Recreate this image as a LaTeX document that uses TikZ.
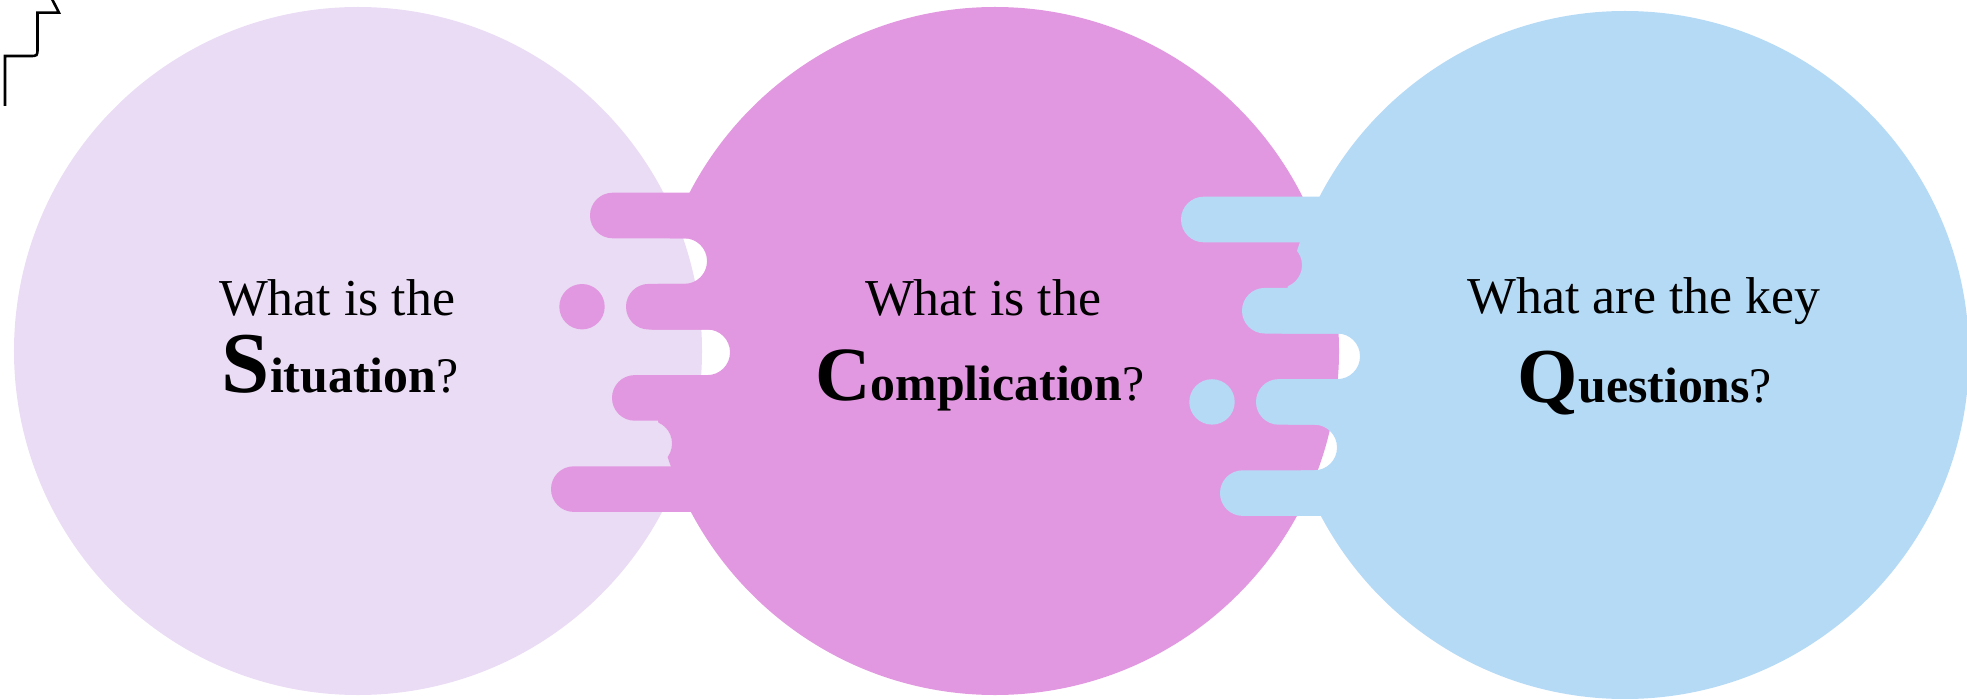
\documentclass[tikz,border=0pt]{standalone}
\usepackage{fontspec}
\setmainfont{Liberation Serif}
\definecolor{sitcol}{RGB}{234,220,245}
\definecolor{comcol}{RGB}{226,152,224}
\definecolor{quecol}{RGB}{181,218,246}
\begin{document}
\begin{tikzpicture}[x=1bp,y=-1bp,
    drip/.style={rounded corners=22.7bp},
    toprow/.style={font=\fontsize{52}{60}\selectfont,inner sep=0pt,anchor=base},
    keyrow/.style={font=\fontsize{50}{60}\selectfont\bfseries,inner sep=0pt,anchor=base}]
\useasboundingbox (0,0) rectangle (1967,699);
\coordinate (sit) at (358,351);
\coordinate (com) at (995,351);
\coordinate (que) at (1625,355);
% situation
\fill [sitcol] (sit) circle [radius=344bp];
% complication, with its notches left out
\begin{scope}[even odd rule,drip]
  \clip (-50,-50) rectangle (2050,750)
    \foreach \k/\xr in {1/707,3/730,5/672} {(400,{192.7+\k*45.6}) rectangle (\xr,{238.3+\k*45.6})};
  \fill [comcol,sharp corners] (com) circle [radius=344bp];
\end{scope}
\foreach \k/\xl in {0/590,2/626,4/612,6/551}
  \fill [comcol,drip] (\xl,{192.7+\k*45.6}) rectangle (900,{238.3+\k*45.6});
\fill [comcol] (582,306.7) circle [radius=22.7bp];
% questions
\begin{scope}[even odd rule,drip]
  \clip (-50,-50) rectangle (2050,750)
    \foreach \k/\xr in {1/1302,3/1360,5/1337} {(1100,{196.7+\k*45.6}) rectangle (\xr,{242.3+\k*45.6})};
  \fill [quecol,sharp corners] (que) circle [radius=344bp];
\end{scope}
\foreach \k/\xl in {0/1181,2/1242,4/1256,6/1220}
  \fill [quecol,drip] (\xl,{196.7+\k*45.6}) rectangle (1500,{242.3+\k*45.6});
\fill [quecol] (1212,401.9) circle [radius=22.7bp];
% texts
\node [toprow] (sitA) at (337,315) {What is the};
\node [keyrow] (sitB) at (340,392) {{\fontsize{87}{87}\selectfont S}ituation{\mdseries ?}};
\node [toprow] (comA) at (983,315) {What is the};
\node [keyrow] (comB) at (980,400) {{\fontsize{77}{77}\selectfont C}omplication{\mdseries ?}};
\node [toprow] (queA) at (1644,313) {What are the key};
\node [keyrow] (queB) at (1645,402) {{\fontsize{78}{78}\selectfont Q}uestions{\mdseries ?}};
% stray elbow line
\coordinate (l1) at (5,106);
\coordinate (l2) at (5,56);
\coordinate (l3) at (37.5,56);
\coordinate (l4) at (37.5,12.7);
\coordinate (l5) at (59,12.7);
\coordinate (l6) at (52,-1);
\draw [line width=2.6bp] (l1) -- (l2) -- ([xshift=-8bp]l3) .. controls (l3) .. ([yshift=8bp]l3) -- (l4) -- (l5) -- (l6);
\end{tikzpicture}
\end{document}
